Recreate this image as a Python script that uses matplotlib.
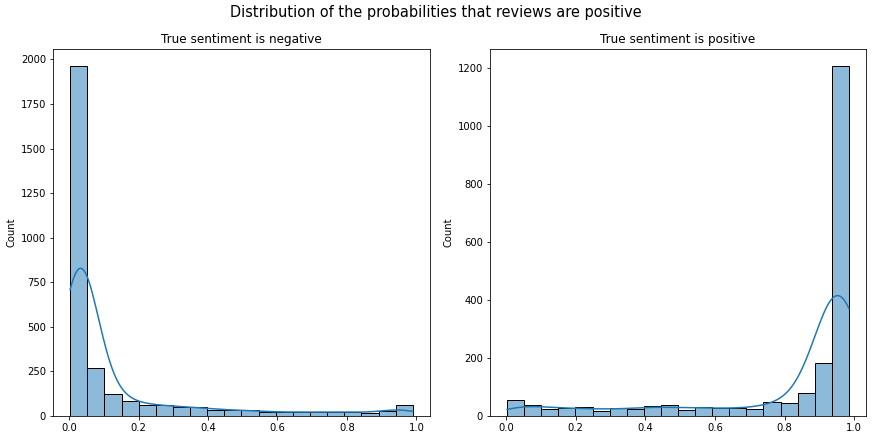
import numpy as np
import pandas as pd
import matplotlib
matplotlib.use("Agg")
import matplotlib.pyplot as plt
import seaborn as sns

# Bin counts (20 bins each)
neg_counts = [1960, 267, 121, 84, 62, 61, 50, 50, 34, 34, 32, 22, 22, 22, 22, 22, 22, 17, 28, 62]
pos_counts = [55, 37, 24, 27, 30, 17, 27, 24, 33, 37, 20, 32, 26, 26, 23, 47, 44, 78, 182, 1206]
neg_range = (0.003, 0.990)
pos_range = (0.003, 0.985)

titles = ["True sentiment is negative", "True sentiment is positive"]
suptitle = "Distribution of the probabilities that reviews are positive"

fig = plt.figure(figsize=(872 / 72, 440 / 72), dpi=72)
ax1 = fig.add_axes([53 / 872, 1 - 416 / 440, 377 / 872, 367 / 440])
ax2 = fig.add_axes([490 / 872, 1 - 416 / 440, 376 / 872, 367 / 440])

for ax, counts, rng, title, bw in [(ax1, neg_counts, neg_range, titles[0], 0.2),
                                   (ax2, pos_counts, pos_range, titles[1], 0.23)]:
    edges = np.linspace(rng[0], rng[1], len(counts) + 1)
    centers = (edges[:-1] + edges[1:]) / 2
    df = pd.DataFrame({"p": centers, "w": np.asarray(counts, dtype=float)})
    sns.histplot(data=df, x="p", weights="w", bins=list(edges), kde=True, ax=ax,
                 color="#1f77b4", edgecolor="black", linewidth=1,
                 kde_kws={"bw_adjust": bw, "cut": 3, "clip": (rng[0], rng[1])},
                 line_kws={"linewidth": 1.5})
    ax.set_title(title, fontsize=12)
    ax.set_ylabel("Count", fontsize=10)
    ax.set_xlabel("")
    ax.tick_params(labelsize=10)

ax1.set_yticks(np.arange(0, 2001, 250))
ax2.set_yticks(np.arange(0, 1201, 200))
fig.suptitle(suptitle, fontsize=14.5, y=0.988)
fig.savefig("out.png", dpi=72, facecolor="white")
